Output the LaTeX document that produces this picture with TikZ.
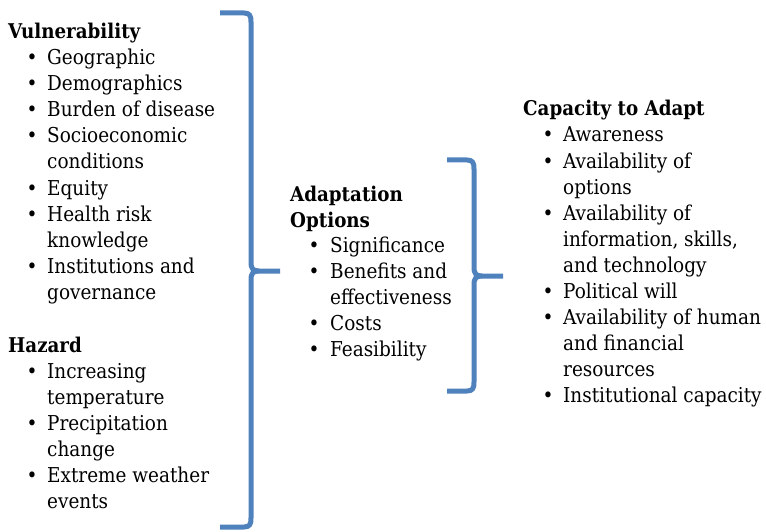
\documentclass[tikz,border=0pt]{standalone}
\usepackage{fontspec}
\setmainfont{DejaVu Serif Condensed}
\definecolor{bracecol}{HTML}{4F81BD}
\tikzset{
  hdr/.style={anchor=base west, inner sep=0pt, font=\fontsize{20.3}{24}\selectfont\bfseries},
  itm/.style={anchor=base west, inner sep=0pt, font=\fontsize{20.5}{24}\selectfont},
  bul/.style={anchor=base, inner sep=0pt, font=\fontsize{20.5}{24}\selectfont},
  bracestroke/.style={draw=bracecol, line width=5pt, line join=round}
}
\newcommand{\bracepath}[6]{% L X T M B R
  \draw[bracestroke] (#1,#3) -- (#2-7,#3) .. controls (#2-1,#3) and (#2,#3+3) .. (#2,#3+9) -- (#2,#4-9) .. controls (#2,#4-2) and (#2+2,#4) .. (#2+8,#4) -- (#6,#4);
  \draw[bracestroke] (#1,#5) -- (#2-7,#5) .. controls (#2-1,#5) and (#2,#5-3) .. (#2,#5-9) -- (#2,#4+9) .. controls (#2,#4+2) and (#2+2,#4) .. (#2+8,#4);
}
\begin{document}
\begin{tikzpicture}[x=1pt,y=-1pt]
\useasboundingbox (0,0) rectangle (766,532);
% left column
\node[hdr] (vh) at (8,39) {Vulnerability};
\foreach \t/\y/\b in {Geographic/65/1, Demographics/91/1, Burden of disease/117/1, Socioeconomic/143/1, conditions/169/0, Equity/195/1, Health risk/221/1, knowledge/247/0, Institutions and/273/1, governance/299/0}{
  \node[itm] at (47,\y) {\t};
  \ifnum\b=1 \node[bul] at (32,\y) {•};\fi
}
\node[hdr] (hh) at (8,352) {Hazard};
\foreach \t/\y/\b in {Increasing/378/1, temperature/404/0, Precipitation/430/1, change/456/0, Extreme weather/482/1, events/508/0}{
  \node[itm] at (47,\y) {\t};
  \ifnum\b=1 \node[bul] at (32,\y) {•};\fi
}
% middle column
\node[hdr] (ah) at (290,201) {Adaptation};
\node[hdr] (ah2) at (290,227) {Options};
\foreach \t/\y/\b in {Significance/252/1, Benefits and/278/1, effectiveness/304/0, Costs/330/1, Feasibility/356/1}{
  \node[itm] at (330,\y) {\t};
  \ifnum\b=1 \node[bul] at (314,\y) {•};\fi
}
% right column
\node[hdr] (ch) at (523,116) {Capacity to Adapt};
\foreach \t/\y/\b in {Awareness/142/1, Availability of/168/1, options/194/0, Availability of/220/1, {information, skills,}/246/0, and technology/272/0, Political will/298/1, Availability of human/324/1, and financial/350/0, resources/376/0, Institutional capacity/402/1}{
  \node[itm] at (563,\y) {\t};
  \ifnum\b=1 \node[bul] at (548,\y) {•};\fi
}
% braces
\bracepath{220}{251}{13}{271}{527}{280}
\bracepath{447}{474}{160}{276}{391}{503}
\end{tikzpicture}
\end{document}
